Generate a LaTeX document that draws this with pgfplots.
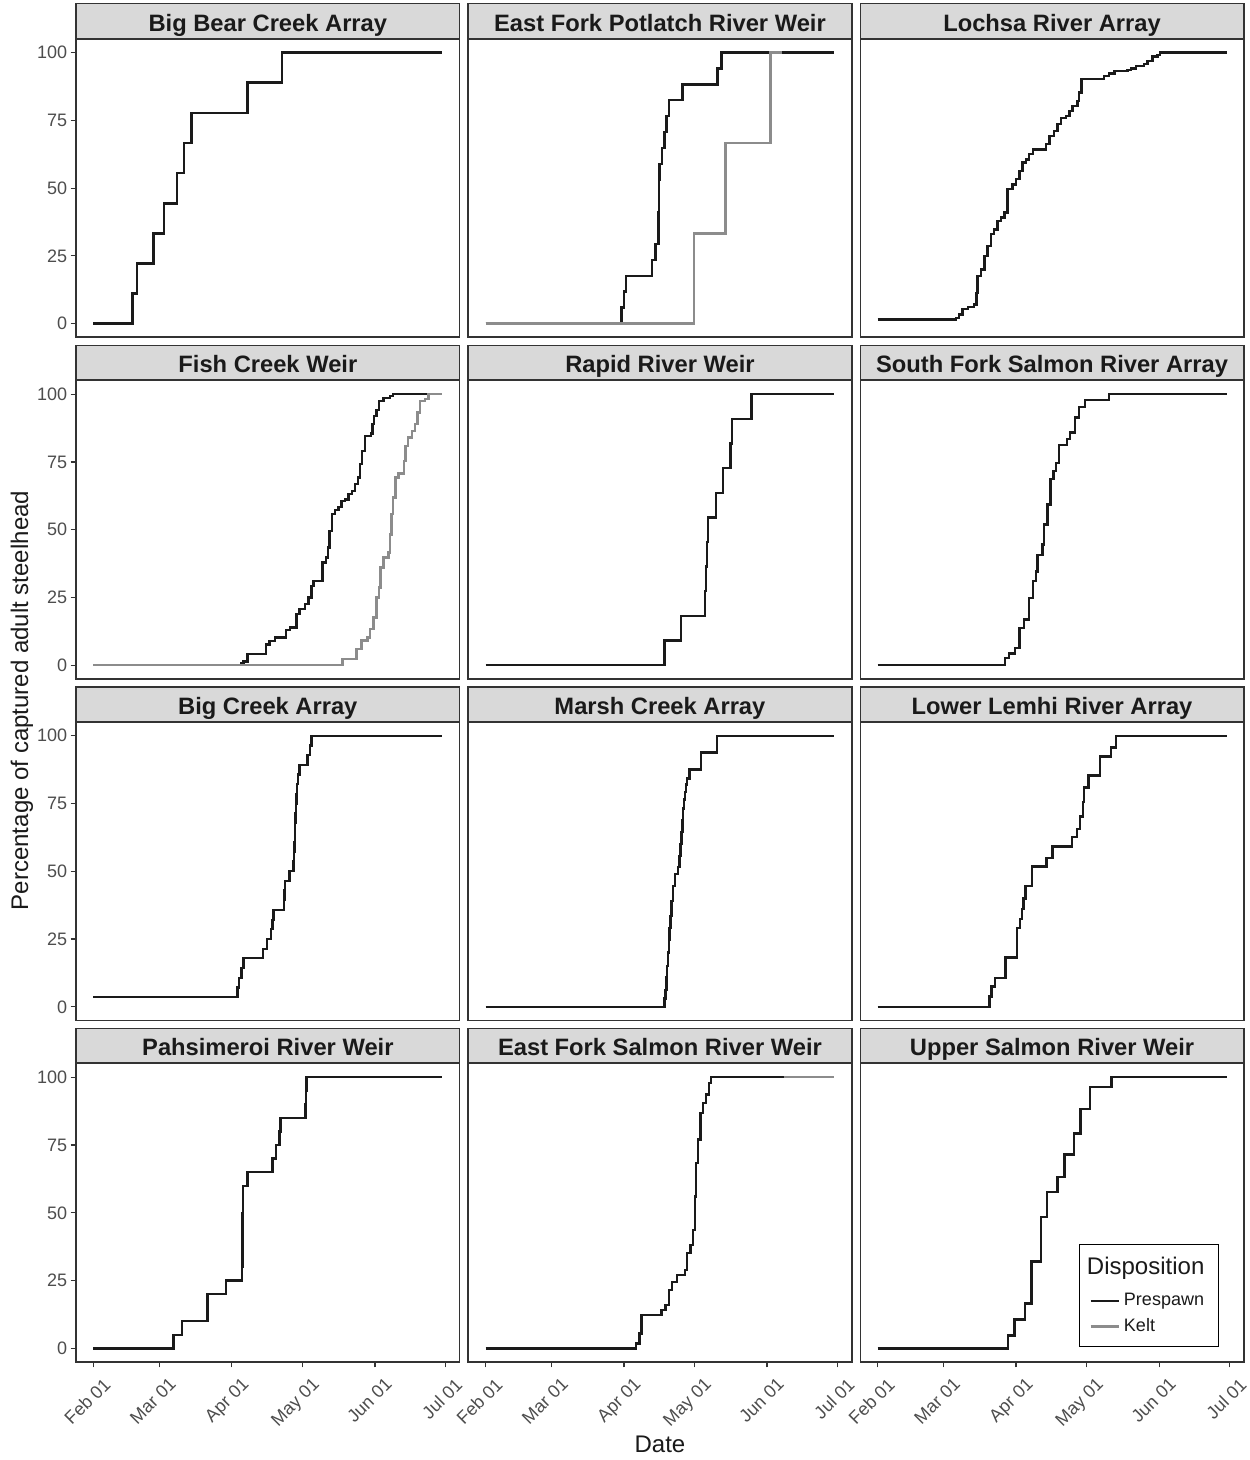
\documentclass[border=0pt]{standalone}
\usepackage{fontspec}
\setmainfont{Liberation Sans}
\usepackage{pgfplots}
\pgfplotsset{compat=1.18}
\usepgfplotslibrary{groupplots}
\usetikzlibrary{calc}
\definecolor{stripfill}{HTML}{D9D9D9}
\definecolor{frame}{HTML}{333333}
\definecolor{prespawn}{HTML}{1A1A1A}
\definecolor{kelt}{HTML}{8C8C8C}
\definecolor{ticktext}{HTML}{4D4D4D}
\pgfplotsset{
  pre/.style={const plot, color=prespawn, line width=1.2pt, mark=none},
  kel/.style={const plot, color=kelt, line width=1.2pt, mark=none},
  xb/.style={xtick={0,28,59,89,120,150}, xticklabels={Feb 01,Mar 01,Apr 01,May 01,Jun 01,Jul 01}},
  xn/.style={xtick=\empty},
  yl/.style={ytick={0,25,50,75,100}},
  yn/.style={ytick=\empty},
}
\begin{document}
\begin{tikzpicture}
\begin{groupplot}[
  group style={group size=3 by 4, horizontal sep=4.25pt, vertical sep=21.67pt, group name=g},
  width=191.67pt, height=149pt, scale only axis,
  xmin=-7.4, xmax=156.1, ymin=-5, ymax=105,
  axis line style={draw=frame, line width=0.75pt},
  tick align=outside, major tick length=2.75pt,
  tick style={draw=frame, line width=0.6pt},
  xtick pos=bottom, ytick pos=left,
  /pgf/number format/assume math mode=true,
  ticklabel style={font=\fontsize{9}{10}\selectfont, text=ticktext},
  yticklabel style={inner sep=1.5pt},
  xticklabel style={xshift=4.5pt, yshift=-3pt, rotate=45, anchor=north east, inner sep=1pt},
  every axis title/.style={at={(0.5,1)}, anchor=south, fill=stripfill, draw=frame, line width=0.75pt, minimum width=191.67pt, minimum height=17.25pt, inner sep=0pt, text height=10pt, text depth=0pt, font=\bfseries\fontsize{11.85}{13}\selectfont, text=prespawn},
  legend image code/.code={\draw[#1] (0pt,0pt) -- (9.5pt,0pt); \path (0pt,0pt) -- (14pt,0pt);},
]
% ---------- Row 1 ----------
\nextgroupplot[title={Big Bear Creek Array}, xn, yl]
\addplot[pre] coordinates {(0,0) (16.6,11.1) (18.5,22.2) (25.6,33.3) (30.1,44.4) (35.5,55.6) (38.6,66.7) (41.8,77.8) (65.6,88.9) (80.5,100) (148.7,100)};

\nextgroupplot[title={East Fork Potlatch River Weir}, xn, yn]
\addplot[pre] coordinates {(0,0) (58.0,5.9) (59.0,11.8) (59.9,17.6) (71.0,23.5) (72.5,29.4) (73.7,35.3) (73.8,41.2) (73.9,47.1) (74.0,52.9) (74.2,58.8) (75.2,64.7) (76.3,70.6) (77.2,76.5) (78.1,82.4) (83.9,88.2) (98.9,94.1) (100.6,100) (148.7,100)};
\addplot[kel] coordinates {(0,0) (88.8,33.3) (102.3,66.7) (121.4,100) (126.4,100)};

\nextgroupplot[title={Lochsa River Array}, xn, yn]
\addplot[pre] coordinates {(0,1.6) (33.4,2.2) (34.8,3.4) (36.2,5.5) (38.4,6.2) (41.2,7.1) (42.2,11.4) (42.6,17.6) (44.0,20.0) (45.5,25.0) (46.9,28.7) (48.3,33.0) (49.7,34.8) (51.1,37.9) (52.6,39.1) (54.0,41.0) (55.4,49.6) (57.5,51.4) (59.0,53.3) (60.4,56.3) (61.8,59.4) (63.2,60.6) (64.6,62.5) (66.1,64.3) (71.7,66.2) (73.2,69.3) (75.3,71.1) (76.7,73.6) (78.1,75.8) (80.3,76.6) (81.7,78.5) (83.1,80.3) (85.2,82.2) (85.9,85.2) (86.9,90.2) (96.6,91.4) (98.7,92.3) (100.9,93.2) (106.5,93.5) (108.0,94.2) (110.1,95.1) (113.6,95.7) (115.1,96.9) (117.2,98.5) (119.3,99.0) (120.3,100) (148.7,100)};

% ---------- Row 2 ----------
\nextgroupplot[title={Fish Creek Weir}, xn, yl]
\addplot[pre] coordinates {(0,0) (62.9,0.7) (63.9,1.4) (65.6,4.1) (73.6,7.7) (75.0,9.0) (77.4,10.2) (82.1,12.9) (83.8,13.9) (86.6,18.8) (87.8,20.7) (90.2,22.5) (91.6,25.0) (93.0,29.3) (93.8,31.1) (97.7,37.9) (99.1,39.7) (99.9,43.4) (100.6,49.6) (101.6,55.7) (103.0,57.2) (104.4,58.4) (105.8,60.6) (107.2,61.1) (108.7,63.1) (110.1,64.3) (111.5,66.8) (112.9,69.2) (113.6,74.2) (114.6,79.1) (115.8,84.6) (118.2,85.5) (118.9,88.9) (119.7,92.0) (120.7,94.1) (121.7,97.5) (123.6,98.5) (126.4,99.4) (127.6,100) (148.7,100)};
\addplot[kel] coordinates {(0,0) (106.1,2.2) (112.2,5.9) (114.3,9.2) (116.8,10.2) (117.9,13.3) (119.3,17.6) (120.7,25.0) (121.7,28.7) (122.4,36.0) (123.6,39.7) (125.7,41.6) (126.4,48.3) (127.1,55.7) (127.8,61.9) (128.8,69.2) (130.0,70.7) (132.4,75.4) (133.1,80.9) (134.2,84.0) (135.7,86.5) (137.1,88.9) (138.1,93.2) (139.2,97.5) (141.3,98.2) (142.8,100) (148.7,100)};

\nextgroupplot[title={Rapid River Weir}, xn, yn]
\addplot[pre] coordinates {(0,0) (76.3,9.1) (83.2,18.2) (93.5,27.3) (93.9,36.4) (94.3,45.5) (94.9,54.5) (98.3,63.6) (101.1,72.7) (104.4,81.8) (105.1,90.9) (113.4,100) (148.7,100)};

\nextgroupplot[title={South Fork Salmon River Array}, xn, yn]
\addplot[pre] coordinates {(0,0) (54.3,2.6) (56.1,4.4) (58.5,6.3) (60.4,13.7) (62.5,16.8) (64.6,24.8) (66.1,31.0) (67.5,34.6) (68.2,40.6) (70.3,44.5) (71.0,51.9) (72.4,59.3) (73.6,68.6) (75.0,71.6) (76.0,74.7) (77.4,81.3) (80.7,83.4) (82.1,85.8) (84.1,91.4) (85.9,95.3) (88.4,97.8) (98.7,100) (148.7,100)};

% ---------- Row 3 ----------
\nextgroupplot[title={Big Creek Array}, xn, yl]
\addplot[pre] coordinates {(0,3.6) (61.4,7.1) (62.1,10.7) (63.2,14.3) (63.9,17.9) (72.4,21.4) (74.1,25.0) (75.6,28.6) (76.4,32.1) (76.7,35.7) (81.2,39.3) (81.4,42.9) (81.6,46.4) (83.5,50.0) (85.2,53.6) (85.5,57.1) (85.7,60.7) (85.9,64.3) (86.0,67.9) (86.2,71.4) (86.4,75.0) (86.6,78.6) (86.9,82.1) (87.3,85.7) (87.8,89.3) (91.2,92.9) (92.3,96.4) (93.0,100) (148.7,100)};

\nextgroupplot[title={Marsh Creek Array}, xn, yn]
\addplot[pre] coordinates {(0,0) (76.3,3.1) (76.7,6.3) (77.1,11.0) (77.4,15.0) (77.8,20.0) (78.1,24.8) (78.5,29.0) (78.8,33.5) (79.3,39.0) (79.8,44.6) (80.7,48.9) (82.0,51.5) (82.7,55.7) (83.1,60.0) (83.5,64.4) (83.9,69.0) (84.2,73.1) (84.6,76.5) (84.9,79.2) (85.4,82.0) (85.9,84.2) (86.9,87.5) (91.9,93.8) (98.7,100) (148.7,100)};

\nextgroupplot[title={Lower Lemhi River Array}, xn, yn]
\addplot[pre] coordinates {(0,0) (47.6,3.8) (48.6,7.5) (49.9,10.6) (54.5,18.2) (59.5,29.1) (60.8,32.3) (61.5,36.0) (62.2,40.0) (63.0,44.5) (65.8,51.7) (71.9,55.0) (74.6,59.1) (82.8,62.6) (85.0,65.5) (86.3,70.2) (87.5,75.5) (88.0,80.9) (89.9,85.4) (94.7,92.4) (99.4,95.7) (101.6,100) (148.7,100)};

% ---------- Row 4 ----------
\nextgroupplot[title={Pahsimeroi River Weir}, xb, yl]
\addplot[pre] coordinates {(0,0) (34.2,5) (37.8,10) (48.6,15) (48.7,20) (56.5,25) (63.4,30) (63.5,35) (63.5,40) (63.6,45) (63.6,50) (63.7,55) (63.8,60) (65.6,65) (76.4,70) (77.8,75) (79.3,80) (79.8,85) (90.4,90) (90.6,95) (90.8,100) (148.7,100)};

\nextgroupplot[title={East Fork Salmon River Weir}, xb, yn]
\addplot[pre] coordinates {(0,0) (64.2,1.8) (65.6,5.5) (66.5,12.3) (75.0,14.2) (76.7,16.0) (78.1,21.6) (79.5,24.6) (81.7,27.1) (84.9,28.9) (85.9,35.1) (87.4,38.2) (88.4,43.7) (89.2,56.0) (89.8,68.3) (90.6,77.0) (91.6,86.8) (92.8,90.5) (94.0,93.6) (95.2,97.9) (96.2,100) (127.1,100)};
\addplot[kel] coordinates {(127.1,100) (148.7,100)};

\nextgroupplot[title={Upper Salmon River Weir}, xb, yn,
  legend style={at={(0.935,0.05)}, anchor=south east, draw=black, line width=0.5pt, fill=white, font=\fontsize{9}{11}\selectfont, cells={anchor=west}, row sep=1pt, inner xsep=5pt, inner ysep=4pt, text=prespawn}]
\addlegendimage{empty legend}
\addlegendentry{\hspace*{-18.5pt}\fontsize{12}{14}\selectfont\raisebox{3pt}{Disposition}\rule[-3.5pt]{0pt}{12.3pt}}
\addplot[pre] coordinates {(0,0) (55.6,4.7) (58.3,10.6) (62.7,16.5) (65.6,32.1) (69.6,48.5) (72.3,57.6) (76.7,63.2) (79.6,71.5) (83.6,79.2) (86.4,88.4) (90.6,96.4) (99.6,100) (148.7,100)};
\addlegendentry{Prespawn}
\addlegendimage{kel}
\addlegendentry{Kelt}
\end{groupplot}
\node[rotate=90, font=\fontsize{12}{14}\selectfont, text=prespawn] at ($(g c1r1.north west)!0.5!(g c1r4.south west)+(-27pt,0)$) {Percentage of captured adult steelhead};
\node[font=\fontsize{12}{14}\selectfont, text=prespawn] at ($(g c2r4.south)+(0,-41pt)$) {Date};
\pgfresetboundingbox
\path[use as bounding box] ($(g c1r1.north west)+(-38pt,19.5pt)$) rectangle ($(g c3r4.south east)+(3pt,-49pt)$);
\end{tikzpicture}
\end{document}
